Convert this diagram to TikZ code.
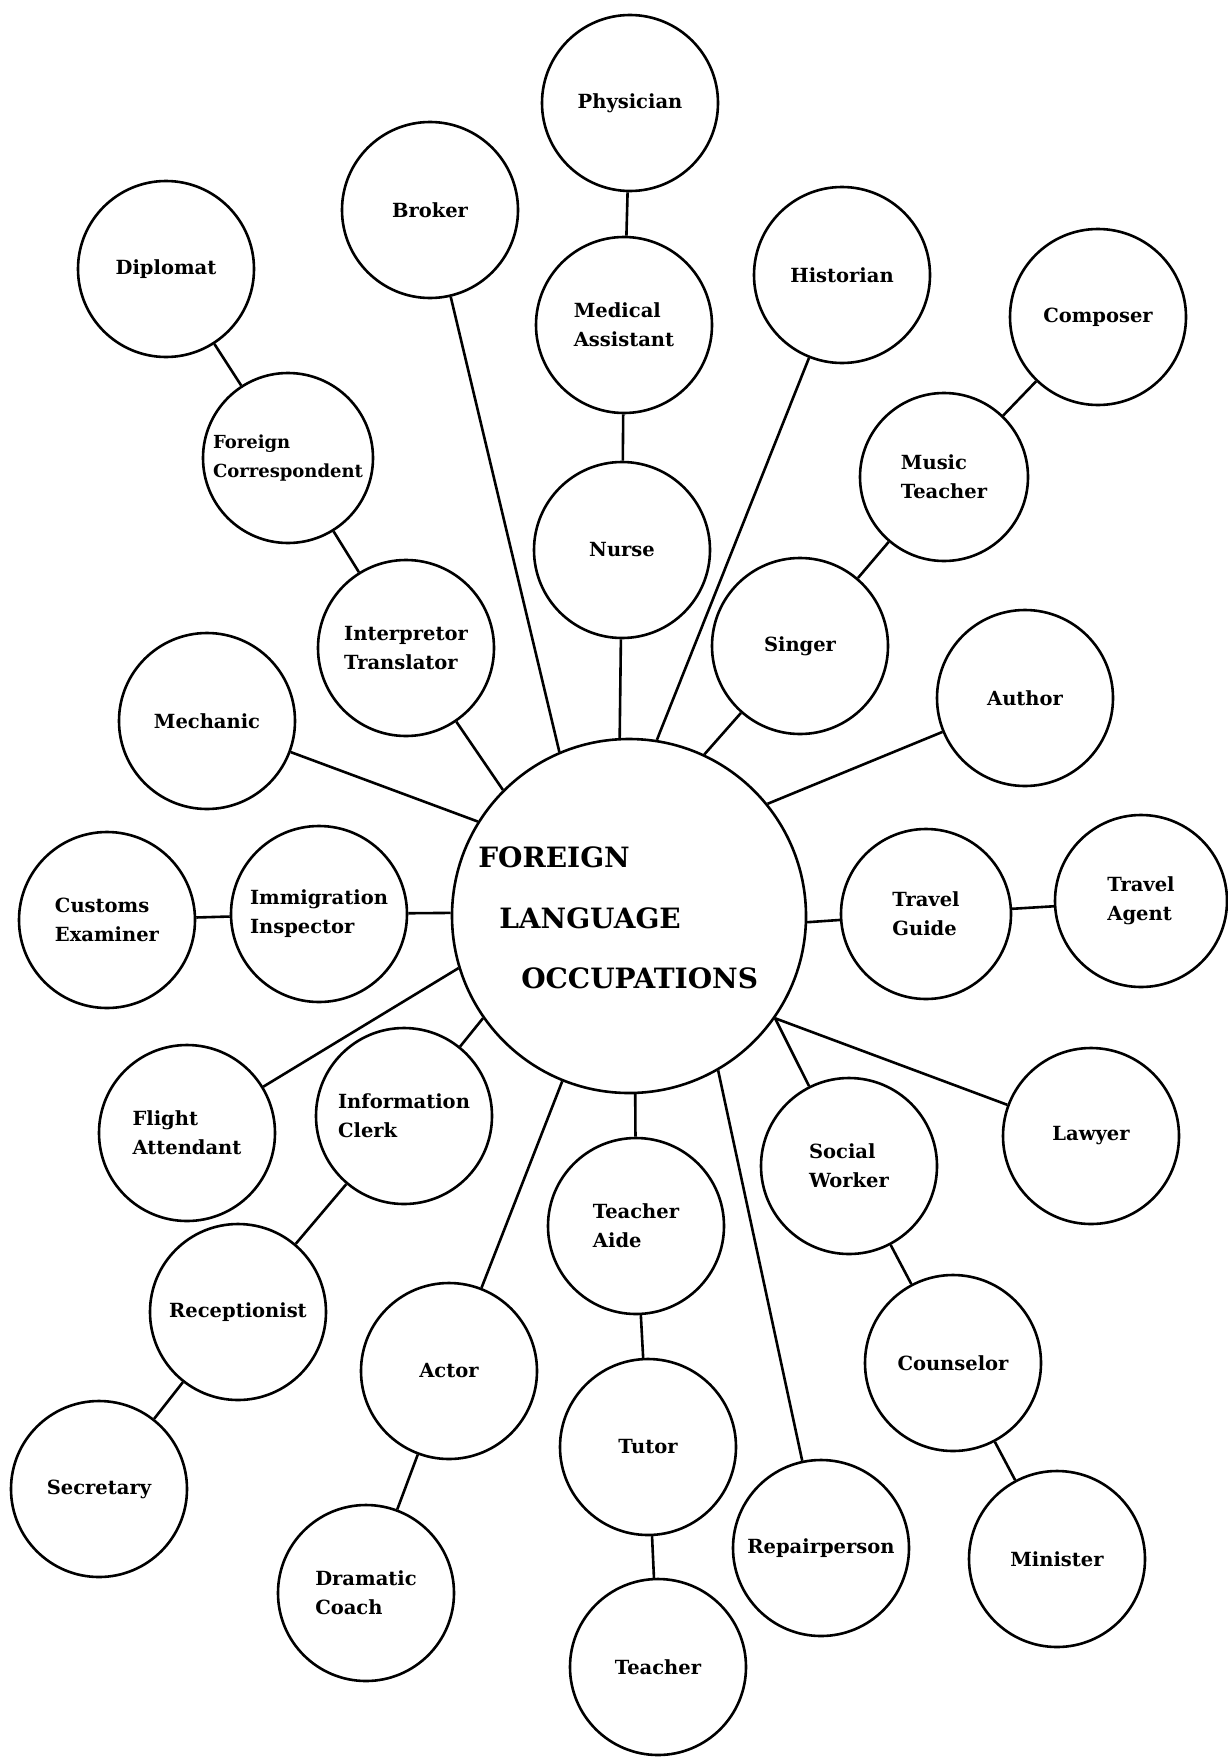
\documentclass[tikz,border=0pt]{standalone}
\usepackage{fontspec}
\setmainfont{DejaVu Serif}
\usepackage{tikz}

\begin{document}
\begin{tikzpicture}[x=1pt,y=-1pt,line width=2.6pt,
  o/.style={draw,circle,minimum size=176pt,inner sep=0pt,align=left,
    font=\bfseries\fontsize{19.5}{29}\selectfont},
  h/.style={anchor=base west,inner sep=0pt,font=\bfseries\fontsize{28}{30}\selectfont}]
  \useasboundingbox (0,0) rectangle (1227,1758);
  % hub
  \node[draw,circle,minimum size=354pt,inner sep=0pt] (flo) at (629,916) {};
  \node[h] (fl1) at (477,867) {FOREIGN};
  \node[h] (fl2) at (498,928) {LANGUAGE};
  \node[h] (fl3) at (520,988) {OCCUPATIONS};
  % upper half
  \node[o] (ph) at (630,103) {Physician};
  \node[o] (ma) at (624,325) {Medical\\Assistant};
  \node[o] (nu) at (622,550) {Nurse};
  \node[o] (br) at (430,210) {Broker};
  \node[o] (dp) at (166,269) {Diplomat};
  \node[o,minimum size=170pt,font=\bfseries\fontsize{18}{29}\selectfont] (fc) at (288,458) {Foreign\\Correspondent};
  \node[o] (it) at (406,648) {Interpretor\\Translator};
  \node[o] (hi) at (842,275) {Historian};
  \node[o] (cm) at (1098,317) {Composer};
  \node[o,minimum size=168pt] (mt) at (944,477) {Music\\Teacher};
  \node[o] (si) at (800,646) {Singer};
  \node[o] (au) at (1025,698) {Author};
  \node[o] (me) at (207,721) {Mechanic};
  % middle row
  \node[o] (ii) at (319,914) {Immigration\\Inspector};
  \node[o] (ce) at (107,920) {Customs\\Examiner};
  \node[o,minimum size=170pt] (tg) at (926,914) {Travel\\Guide};
  \node[o,minimum size=172pt] (ta) at (1141,901) {Travel\\Agent};
  % lower half
  \node[o] (fa) at (187,1133) {Flight\\Attendant};
  \node[o] (ic) at (404,1116) {Information\\Clerk};
  \node[o] (re) at (238,1312) {Receptionist};
  \node[o] (se) at (99,1489) {Secretary};
  \node[o] (ac) at (449,1371) {Actor};
  \node[o] (dc) at (366,1593) {Dramatic\\Coach};
  \node[o] (tai) at (636,1226) {Teacher\\Aide};
  \node[o] (tu) at (648,1447) {Tutor};
  \node[o] (te) at (658,1667) {Teacher};
  \node[o] (rp) at (821,1548) {Repairperson};
  \node[o] (sw) at (849,1166) {Social\\Worker};
  \node[o] (la) at (1091,1136) {Lawyer};
  \node[o] (co) at (953,1363) {Counselor};
  \node[o] (mi) at (1057,1559) {Minister};
  % connectors
  \draw (ph)--(ma);\draw (ma)--(nu);\draw (nu)--(flo.93);
  \draw (br)--(flo.113);
  \draw (dp)--(fc);\draw (fc)--(it);\draw (it)--(flo.135);
  \draw (hi)--(flo.81);
  \draw (cm)--(mt);\draw (mt)--(si);\draw (si)--(flo.65);
  \draw (au)--(flo.39);\draw (me)--(flo.148);
  \draw (ce)--(ii);\draw (ii)--(flo.179);
  \draw (ta)--(tg);\draw (tg)--(flo.-2);
  \draw (fa)--(flo.197);
  \draw (se)--(re);\draw (re)--(ic);\draw (ic)--(flo.215);
  \draw (dc)--(ac);\draw (ac)--(flo.248);
  \draw (te)--(tu);\draw (tu)--(tai);\draw (tai)--(flo.272);
  \draw (rp)--(flo.300);
  \draw (mi)--(co);\draw (co)--(sw);\draw (sw)--(flo.-35);
  \draw (la)--(flo.-35);
\end{tikzpicture}
\end{document}
